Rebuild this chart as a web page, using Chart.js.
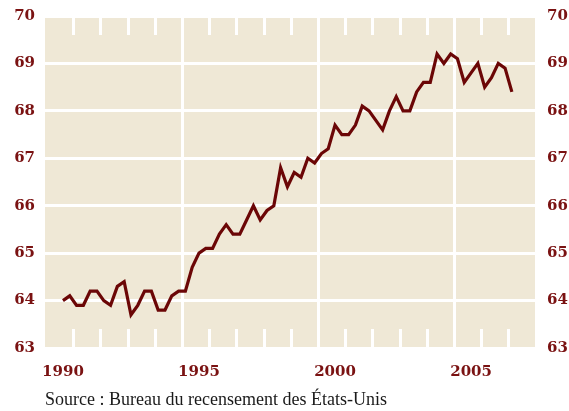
<!DOCTYPE html>
<html lang="fr">
<head>
<meta charset="utf-8">
<script src="https://cdn.jsdelivr.net/npm/chart.js@4/dist/chart.umd.min.js"></script>
<style>
    html, body { margin: 0; padding: 0; background: #ffffff; }
    #cadre { position: relative; width: 569px; height: 411px; }
    #source {
        position: absolute;
        left: 45px;
        top: 389px;
        font-family: "Liberation Serif", serif;
        font-size: 18px;
        color: #1a1a1a;
        white-space: nowrap;
    }
</style>
</head>
<body>
<div id="cadre">
    <canvas id="graphique" width="569" height="411"></canvas>
    <div id="source">Source : Bureau du recensement des États-Unis</div>
</div>
<script>
// ============================
// Données : taux trimestriel, premier point = 1990
// ============================
const anneeDebut = 1990;
const valeurs = [
    64.0, 64.1, 63.9, 63.9, 64.2, 64.2, 64.0, 63.9, 64.3, 64.4,
    63.7, 63.9, 64.2, 64.2, 63.8, 63.8, 64.1, 64.2, 64.2, 64.7,
    65.0, 65.1, 65.1, 65.4, 65.6, 65.4, 65.4, 65.7, 66.0, 65.7,
    65.9, 66.0, 66.8, 66.4, 66.7, 66.6, 67.0, 66.9, 67.1, 67.2,
    67.7, 67.5, 67.5, 67.7, 68.1, 68.0, 67.8, 67.6, 68.0, 68.3,
    68.0, 68.0, 68.4, 68.6, 68.6, 69.2, 69.0, 69.2, 69.1, 68.6,
    68.8, 69.0, 68.5, 68.7, 69.0, 68.9, 68.4
];
const etiquettesAnnees = [1990, 1995, 2000, 2005];
const reperesAnnees = [1990, 1991, 1992, 1993, 1994, 1995, 1996, 1997, 1998,
                       1999, 2000, 2001, 2002, 2003, 2004, 2005, 2006];
const grandsReperes = [1994, 1999, 2004];
const graduationsY = [63, 64, 65, 66, 67, 68, 69, 70];

const points = valeurs.map((v, i) => ({ x: anneeDebut + i / 4, y: v }));

const rouge = '#7a1212';
const fond = '#efe8d6';

// fond de la zone de tracé
const pluginFond = {
    id: 'fond',
    beforeDraw(chart) {
        const { ctx, chartArea } = chart;
        ctx.save();
        ctx.fillStyle = fond;
        ctx.fillRect(chartArea.left, chartArea.top, chartArea.right - chartArea.left, chartArea.bottom - chartArea.top);
        ctx.restore();
    }
};

// repères verticaux : petits traits en haut et en bas, lignes pleines tous les 5 ans
const pluginReperes = {
    id: 'reperes',
    beforeDatasetsDraw(chart) {
        const { ctx, chartArea, scales } = chart;
        ctx.save();
        ctx.strokeStyle = '#ffffff';
        ctx.lineWidth = 3;
        reperesAnnees.forEach(a => {
            const x = Math.round(scales.x.getPixelForValue(a + 0.375)) + 0.5;
            ctx.beginPath();
            if (grandsReperes.includes(a)) {
                ctx.moveTo(x, chartArea.top);
                ctx.lineTo(x, chartArea.bottom);
            } else {
                ctx.moveTo(x, chartArea.top);
                ctx.lineTo(x, chartArea.top + 19);
                ctx.moveTo(x, chartArea.bottom - 19);
                ctx.lineTo(x, chartArea.bottom);
            }
            ctx.stroke();
        });
        ctx.restore();
    }
};

const policeGraduation = { family: "'DejaVu Serif', serif", size: 15, weight: 'bold' };

// largeur fixe des axes verticaux, sans marge automatique
function axeVertical(largeur) {
    return scale => {
        scale.width = largeur;
        scale.paddingTop = 0;
        scale.paddingBottom = 0;
    };
}

const ctx = document.getElementById('graphique').getContext('2d');
new Chart(ctx, {
    type: 'line',
    data: {
        datasets: [{
            data: points,
            borderColor: '#6b0606',
            borderWidth: 3.2,
            pointRadius: 0,
            tension: 0,
            borderJoinStyle: 'miter'
        }]
    },
    options: {
        responsive: false,
        animation: false,
        layout: { padding: { top: 16, left: 0, right: 0, bottom: 0 } },
        plugins: {
            legend: { display: false },
            tooltip: { enabled: false }
        },
        scales: {
            x: {
                type: 'linear',
                min: 1989.34,
                max: 2007.35,
                afterBuildTicks: scale => {
                    scale.ticks = etiquettesAnnees.map(v => ({ value: v }));
                },
                afterFit: scale => {
                    scale.height = 63;
                    scale.paddingLeft = 0;
                    scale.paddingRight = 0;
                },
                grid: { display: false, drawTicks: false },
                border: { display: false },
                ticks: {
                    color: rouge,
                    font: policeGraduation,
                    padding: 15,
                    maxRotation: 0,
                    callback: v => String(v)
                }
            },
            y: {
                position: 'left',
                min: 63,
                max: 70,
                afterBuildTicks: scale => {
                    scale.ticks = graduationsY.map(v => ({ value: v }));
                },
                afterFit: axeVertical(45),
                grid: { color: '#ffffff', lineWidth: 3, drawTicks: false },
                border: { display: false },
                ticks: { color: rouge, font: policeGraduation, padding: 10, labelOffset: 0 }
            },
            y2: {
                position: 'right',
                min: 63,
                max: 70,
                afterBuildTicks: scale => {
                    scale.ticks = graduationsY.map(v => ({ value: v }));
                },
                afterFit: axeVertical(34),
                grid: { display: false, drawTicks: false },
                border: { display: false },
                ticks: { color: rouge, font: policeGraduation, padding: 12, labelOffset: 0 }
            }
        }
    },
    plugins: [pluginFond, pluginReperes]
});
</script>
</body>
</html>
